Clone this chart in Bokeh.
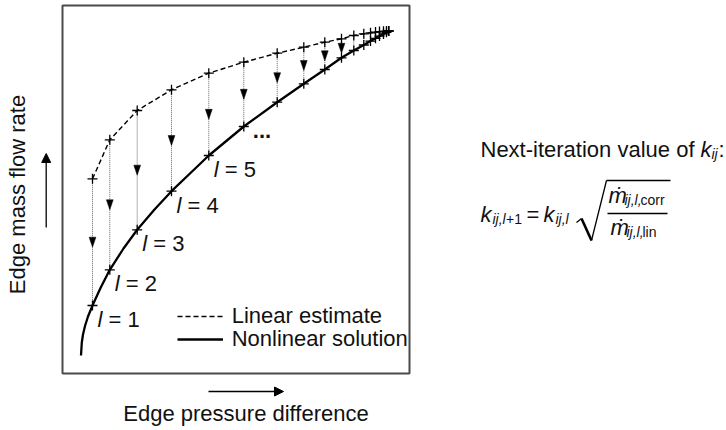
import numpy as np
from bokeh.plotting import figure
from bokeh.models import (Range1d, ColumnDataSource, Label, Arrow, NormalHead,
                          Legend, LegendItem)
from bokeh.core.properties import value
from bokeh.embed import file_html
from bokeh.resources import INLINE

FONT = "Liberation Sans"
SH = 8  # baseline correction (px)

# ---- data (arbitrary units) ----
# plotting box extent (axes limits)
dp_lim = [0.0, 347.0]
m_lim = [0.0, 368.0]

# iterations l = 1, 2, ... : edge pressure difference, linear estimate, nonlinear (corrected) flow
dp_iter = [30.0, 47.3, 74.7, 109.0, 146.3, 181.3, 214.7, 241.3, 262.3, 279.0,
           291.3, 301.3, 308.0, 313.0, 317.0, 321.0, 324.0, 326.3]
m_lin = [194.7, 233.7, 263.0, 283.7, 300.3, 311.3, 320.3, 326.3, 331.3, 334.7,
         338.0, 339.7, 340.7, 341.4, 341.9, 342.2, 342.4, 342.5]
m_corr = [68.0, 103.7, 143.7, 182.3, 218.0, 247.0, 271.3, 289.7, 304.0, 315.7,
          323.0, 328.5, 332.4, 335.2, 337.4, 339.6, 341.2, 342.5]

# nonlinear solution curve
curve_dp = [18.5, 19.3, 20.5, 22.5, 25.5, 30.0, 38.0, 47.3, 61.0, 74.7, 92.0,
            109.0, 128.0, 146.3, 181.3, 214.7, 241.3, 262.3, 279.0, 291.3,
            301.3, 308.0, 313.0, 317.0, 321.0, 324.0, 326.3]
curve_m = [18.0, 31.0, 39.0, 47.5, 57.0, 68.0, 85.5, 103.7, 125.0, 143.7, 164.0,
           182.3, 200.5, 218.0, 247.0, 271.3, 289.7, 304.0, 315.7, 323.0,
           328.5, 332.4, 335.2, 337.4, 339.6, 341.2, 342.5]

iter_labels = [1, 2, 3, 4, 5]

# ---- figure: frame covers the whole canvas, 1 unit = 1 px ----
p = figure(width=726, height=430, x_range=Range1d(-62, 664), y_range=Range1d(-57, 373),
           x_axis_type=None, y_axis_type=None, output_backend="svg",
           toolbar_location=None, min_border=0)
p.xgrid.visible = False
p.ygrid.visible = False
p.outline_line_color = None
p.background_fill_color = "white"
p.border_fill_color = "white"

# plotting box
p.quad(left=[dp_lim[0]], right=[dp_lim[1]], bottom=[m_lim[0]], top=[m_lim[1]],
       fill_alpha=0, line_color="#4a4a4a", line_width=2)

# dotted vertical drops
p.segment(x0=dp_iter, y0=m_lin, x1=dp_iter, y1=m_corr, line_color="#666666",
          line_width=1, line_dash="1 1")

# arrowheads at the middle of each drop (only where there is room)
xa, ya = [], []
for x, a, b in zip(dp_iter, m_lin, m_corr):
    if a - b >= 18:
        tip = (a + b) / 2 - 5
        xa.append([x - 3.4, x + 3.4, x])
        ya.append([tip + 10, tip + 10, tip])
p.patches(xs=xa, ys=ya, fill_color="black", line_color="black", line_width=0.5)

# lines
r_lin = p.line(dp_iter, m_lin, line_color="black", line_width=1.4, line_dash="5 3")
r_nl = p.line(curve_dp, curve_m, line_color="black", line_width=2.3)

# plus markers
p.scatter(dp_iter, m_lin, marker="cross", size=10, line_color="black", line_width=1.3)
p.scatter(dp_iter, m_corr, marker="cross", size=10, line_color="black", line_width=1.3)

# iteration labels "l = n"
src_l = ColumnDataSource(dict(x=dp_iter[:len(iter_labels)], y=m_corr[:len(iter_labels)],
                              l=["l"] * len(iter_labels),
                              t=["= %d" % n for n in iter_labels]))
p.text(x="x", y="y", text="l", source=src_l, text_font=value(FONT),
       text_font_style=value("italic"), text_font_size="22px", x_offset=5,
       y_offset=22 - SH, text_baseline="alphabetic", text_color="#111111")
p.text(x="x", y="y", text="t", source=src_l, text_font=value(FONT),
       text_font_size="22px", x_offset=16, y_offset=22 - SH,
       text_baseline="alphabetic", text_color="#111111")
p.text(x=[dp_iter[5]], y=[m_corr[5]], text=["..."], text_font=value(FONT),
       text_font_style=value("bold"), text_font_size="22px", x_offset=9,
       y_offset=12 - SH, text_baseline="alphabetic", text_color="#111111")

# legends (location = bottom-left corner, px from canvas bottom-left)
for lbl, r, loc in [("Linear estimate", r_lin, (176.7, 101.5)),
                    ("Nonlinear solution", r_nl, (176.7, 78.5))]:
    lg = Legend(items=[LegendItem(label=lbl, renderers=[r])], location=loc,
                padding=0, margin=0, spacing=0, glyph_width=46, glyph_height=20,
                label_standoff=9, label_text_font=FONT, label_text_font_size="22px",
                label_text_color="#111111", border_line_alpha=0,
                background_fill_alpha=0)
    p.add_layout(lg)


def lab(x, y, text, size="22px", style="normal", align="left", angle=0.0):
    if angle:
        x = x - SH
    else:
        y = y + SH
    p.add_layout(Label(x=x, y=y, text=text, text_font=FONT, text_font_size=size,
                       text_font_style=style, text_align=align,
                       text_baseline="alphabetic", text_color="#111111", angle=angle))


def seg(x0, y0, x1, y1, w=1.3, head=False):
    p.add_layout(Arrow(end=NormalHead(size=9, fill_color="black", line_color="black")
                       if head else None,
                       x_start=x0, y_start=y0, x_end=x1, y_end=y1,
                       line_color="black", line_width=w))


# axis titles with arrows
lab(183.5, -48, "Edge pressure difference", align="center")
seg(146, -18, 221, -18, head=True)
lab(-37.5, 179, "Edge mass flow rate", align="center", angle=np.pi / 2)
seg(-16.3, 146, -16.3, 220, head=True)

# formula text
lab(418, 216, "Next-iteration value of")
lab(638, 216, "k", style="italic")
lab(649, 212, "ij", size="14px", style="italic")
lab(656, 216, ":")

lab(418, 151, "k", style="italic")
lab(430, 147, "ij,l", size="14px", style="italic")
lab(443.5, 147, "+1", size="14px")
lab(464, 151, "=")
lab(481, 151, "k", style="italic")
lab(493, 147, "ij,l", size="14px", style="italic")
# radical
seg(514, 151, 519, 155, w=1.3)
seg(519, 155, 529, 133, w=2.6)
seg(529, 133, 544, 193, w=1.3)
seg(544, 193, 608, 193, w=1.5)
# fraction
lab(546, 170, "ṁ", style="italic")
lab(562, 166, "ij,l,", size="14px", style="italic")
lab(578, 166, "corr", size="14px")
seg(545, 160, 605, 160, w=1.5)
lab(548, 138, "ṁ", style="italic")
lab(564, 134, "ij,l,", size="14px", style="italic")
lab(580, 134, "lin", size="14px")

open("out.html", "w").write(file_html(p, INLINE))
